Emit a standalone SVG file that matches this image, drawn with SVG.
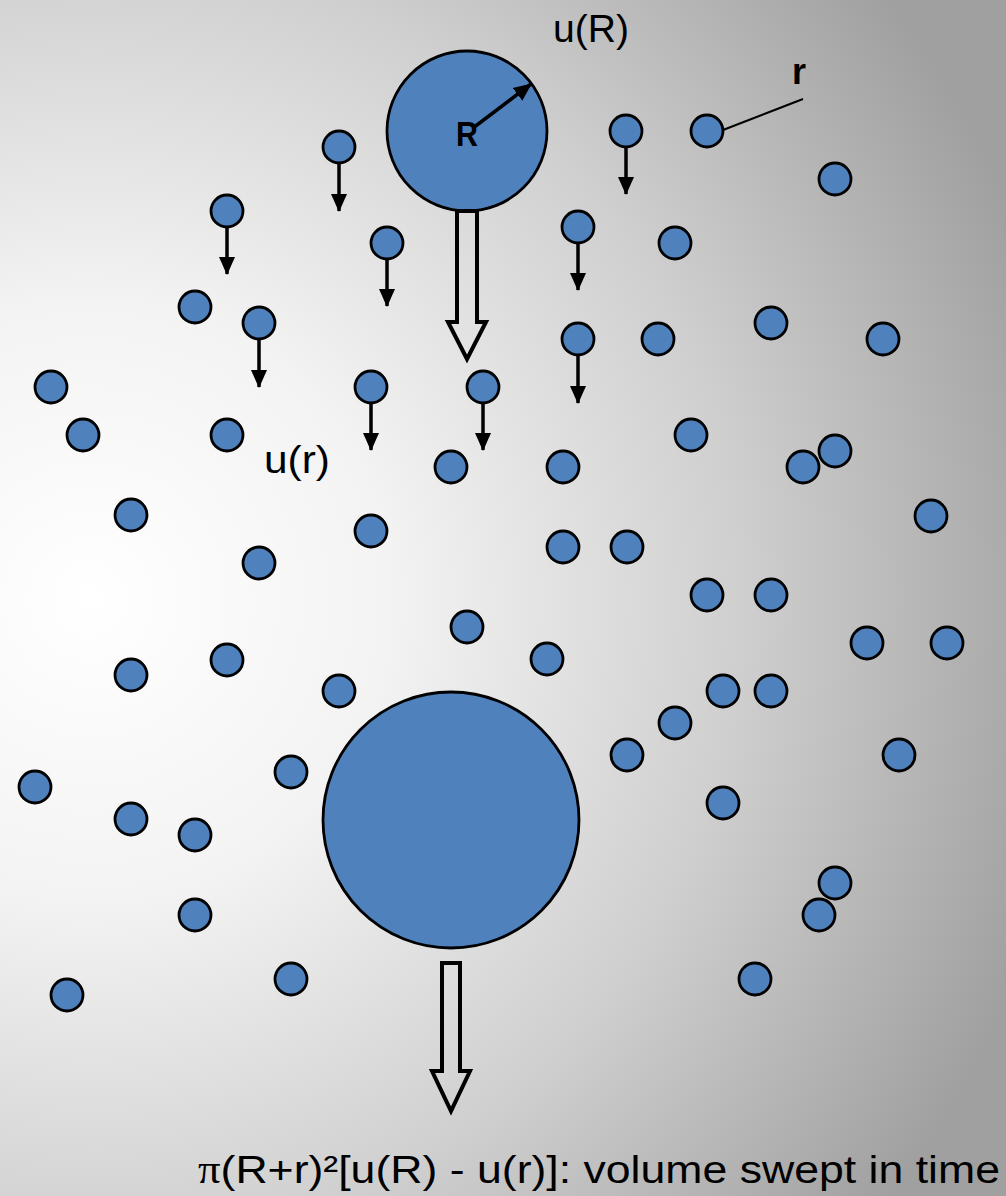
<svg xmlns="http://www.w3.org/2000/svg" width="1006" height="1196" viewBox="0 0 1006 1196">
<defs>
<radialGradient id="bg" gradientUnits="userSpaceOnUse" cx="90" cy="600" r="1000">
<stop offset="0" stop-color="#ffffff"/>
<stop offset="0.3" stop-color="#f3f3f3"/>
<stop offset="0.65" stop-color="#cfcfcf"/>
<stop offset="1" stop-color="#a0a0a0"/>
</radialGradient>
<marker id="ah" markerUnits="userSpaceOnUse" markerWidth="18" markerHeight="18" viewBox="0 0 18 18" refX="17" refY="9" orient="auto">
<path d="M0,1 L18,9 L0,17 z" fill="#000"/>
</marker>
</defs>
<style>
.p{fill:#4f81bd;stroke:#000;stroke-width:2.8}
.big{fill:#4f81bd;stroke:#000;stroke-width:2.8}
.a{stroke:#000;stroke-width:3.5;fill:none;marker-end:url(#ah)}
.h{fill:none;stroke:#000;stroke-width:4;stroke-linejoin:miter}
.t{font-family:"Liberation Sans",Arial,sans-serif;fill:#000}
.b{font-family:"Liberation Sans",Arial,sans-serif;font-weight:bold;fill:#000}
</style>
<rect x="0" y="0" width="1006" height="1196" fill="url(#bg)"/>

<g id="big-R">
<circle class="big" cx="467" cy="131" r="80"/>
</g>
<g id="big-bottom">
<circle class="big" cx="451" cy="820" r="128"/>
</g>
<g id="arrow-top">
<path class="h" d="M457,211 L477,211 L477,322 L486,322 L467,359 L448,322 L457,322 Z"/>
</g>
<g id="arrow-bottom">
<path class="h" d="M442,963 L460,963 L460,1071 L470,1071 L451,1111 L432,1071 L442,1071 Z"/>
</g>

<g id="particles">
<circle id="n1" class="p" cx="339" cy="147" r="16"/>
<circle id="n2" class="p" cx="227" cy="211" r="16"/>
<circle id="n3" class="p" cx="387" cy="243" r="16"/>
<circle id="n4" class="p" cx="626" cy="131" r="16"/>
<circle id="n5" class="p" cx="707" cy="131" r="16"/>
<circle id="n6" class="p" cx="835" cy="179" r="16"/>
<circle id="n7" class="p" cx="578" cy="227" r="16"/>
<circle id="n8" class="p" cx="675" cy="243" r="16"/>
<circle id="n9" class="p" cx="195" cy="307" r="16"/>
<circle id="n10" class="p" cx="259" cy="323" r="16"/>
<circle id="n11" class="p" cx="578" cy="339" r="16"/>
<circle id="n12" class="p" cx="658" cy="339" r="16"/>
<circle id="n13" class="p" cx="771" cy="323" r="16"/>
<circle id="n14" class="p" cx="883" cy="339" r="16"/>
<circle id="n15" class="p" cx="51" cy="387" r="16"/>
<circle id="n16" class="p" cx="371" cy="387" r="16"/>
<circle id="n17" class="p" cx="483" cy="387" r="16"/>
<circle id="n18" class="p" cx="83" cy="435" r="16"/>
<circle id="n19" class="p" cx="227" cy="435" r="16"/>
<circle id="n20" class="p" cx="451" cy="467" r="16"/>
<circle id="n21" class="p" cx="563" cy="467" r="16"/>
<circle id="n22" class="p" cx="691" cy="435" r="16"/>
<circle id="n23" class="p" cx="803" cy="467" r="16"/>
<circle id="n24" class="p" cx="835" cy="451" r="16"/>
<circle id="n25" class="p" cx="131" cy="515" r="16"/>
<circle id="n26" class="p" cx="371" cy="531" r="16"/>
<circle id="n27" class="p" cx="259" cy="563" r="16"/>
<circle id="n28" class="p" cx="563" cy="547" r="16"/>
<circle id="n29" class="p" cx="627" cy="547" r="16"/>
<circle id="n30" class="p" cx="931" cy="516" r="16"/>
<circle id="n31" class="p" cx="707" cy="595" r="16"/>
<circle id="n32" class="p" cx="771" cy="595" r="16"/>
<circle id="n33" class="p" cx="467" cy="627" r="16"/>
<circle id="n34" class="p" cx="867" cy="643" r="16"/>
<circle id="n35" class="p" cx="947" cy="643" r="16"/>
<circle id="n36" class="p" cx="131" cy="675" r="16"/>
<circle id="n37" class="p" cx="227" cy="660" r="16"/>
<circle id="n38" class="p" cx="547" cy="659" r="16"/>
<circle id="n39" class="p" cx="339" cy="691" r="16"/>
<circle id="n40" class="p" cx="723" cy="691" r="16"/>
<circle id="n41" class="p" cx="771" cy="691" r="16"/>
<circle id="n42" class="p" cx="675" cy="723" r="16"/>
<circle id="n43" class="p" cx="35" cy="787" r="16"/>
<circle id="n44" class="p" cx="291" cy="772" r="16"/>
<circle id="n45" class="p" cx="627" cy="755" r="16"/>
<circle id="n46" class="p" cx="899" cy="755" r="16"/>
<circle id="n47" class="p" cx="131" cy="819" r="16"/>
<circle id="n48" class="p" cx="195" cy="835" r="16"/>
<circle id="n49" class="p" cx="723" cy="803" r="16"/>
<circle id="n50" class="p" cx="835" cy="883" r="16"/>
<circle id="n51" class="p" cx="819" cy="915" r="16"/>
<circle id="n52" class="p" cx="195" cy="915" r="16"/>
<circle id="n53" class="p" cx="67" cy="995" r="16"/>
<circle id="n54" class="p" cx="291" cy="979" r="16"/>
<circle id="n55" class="p" cx="755" cy="979" r="16"/>
</g>

<g id="connectors">
<line class="a" x1="339" y1="163" x2="339" y2="211"/>
<line class="a" x1="227" y1="227" x2="227" y2="274"/>
<line class="a" x1="387" y1="259" x2="387" y2="306"/>
<line class="a" x1="626" y1="147" x2="626" y2="194"/>
<line class="a" x1="578" y1="243" x2="578" y2="290"/>
<line class="a" x1="259" y1="339" x2="259" y2="387"/>
<line class="a" x1="578" y1="355" x2="578" y2="403"/>
<line class="a" x1="371" y1="403" x2="371" y2="450"/>
<line class="a" x1="483" y1="403" x2="483" y2="450"/>
<line class="a" x1="473" y1="128" x2="531" y2="84"/>
<line x1="723" y1="130" x2="803" y2="99" stroke="#000" stroke-width="2"/>
</g>

<g id="labels">
<text class="t" x="553" y="42" font-size="39" textLength="76" lengthAdjust="spacingAndGlyphs">u(R)</text>
<text class="b" x="456" y="146" font-size="35" textLength="22" lengthAdjust="spacingAndGlyphs">R</text>
<text class="b" x="792" y="84" font-size="37" textLength="14" lengthAdjust="spacingAndGlyphs">r</text>
<text class="t" x="264" y="473" font-size="39" textLength="66" lengthAdjust="spacingAndGlyphs">u(r)</text>
<text class="t" x="198" y="1183" font-size="39" textLength="802" lengthAdjust="spacingAndGlyphs"><tspan font-family="Liberation Serif, serif">π</tspan>(R+r)²[u(R) - u(r)]: volume swept in time</text>
</g>
</svg>
